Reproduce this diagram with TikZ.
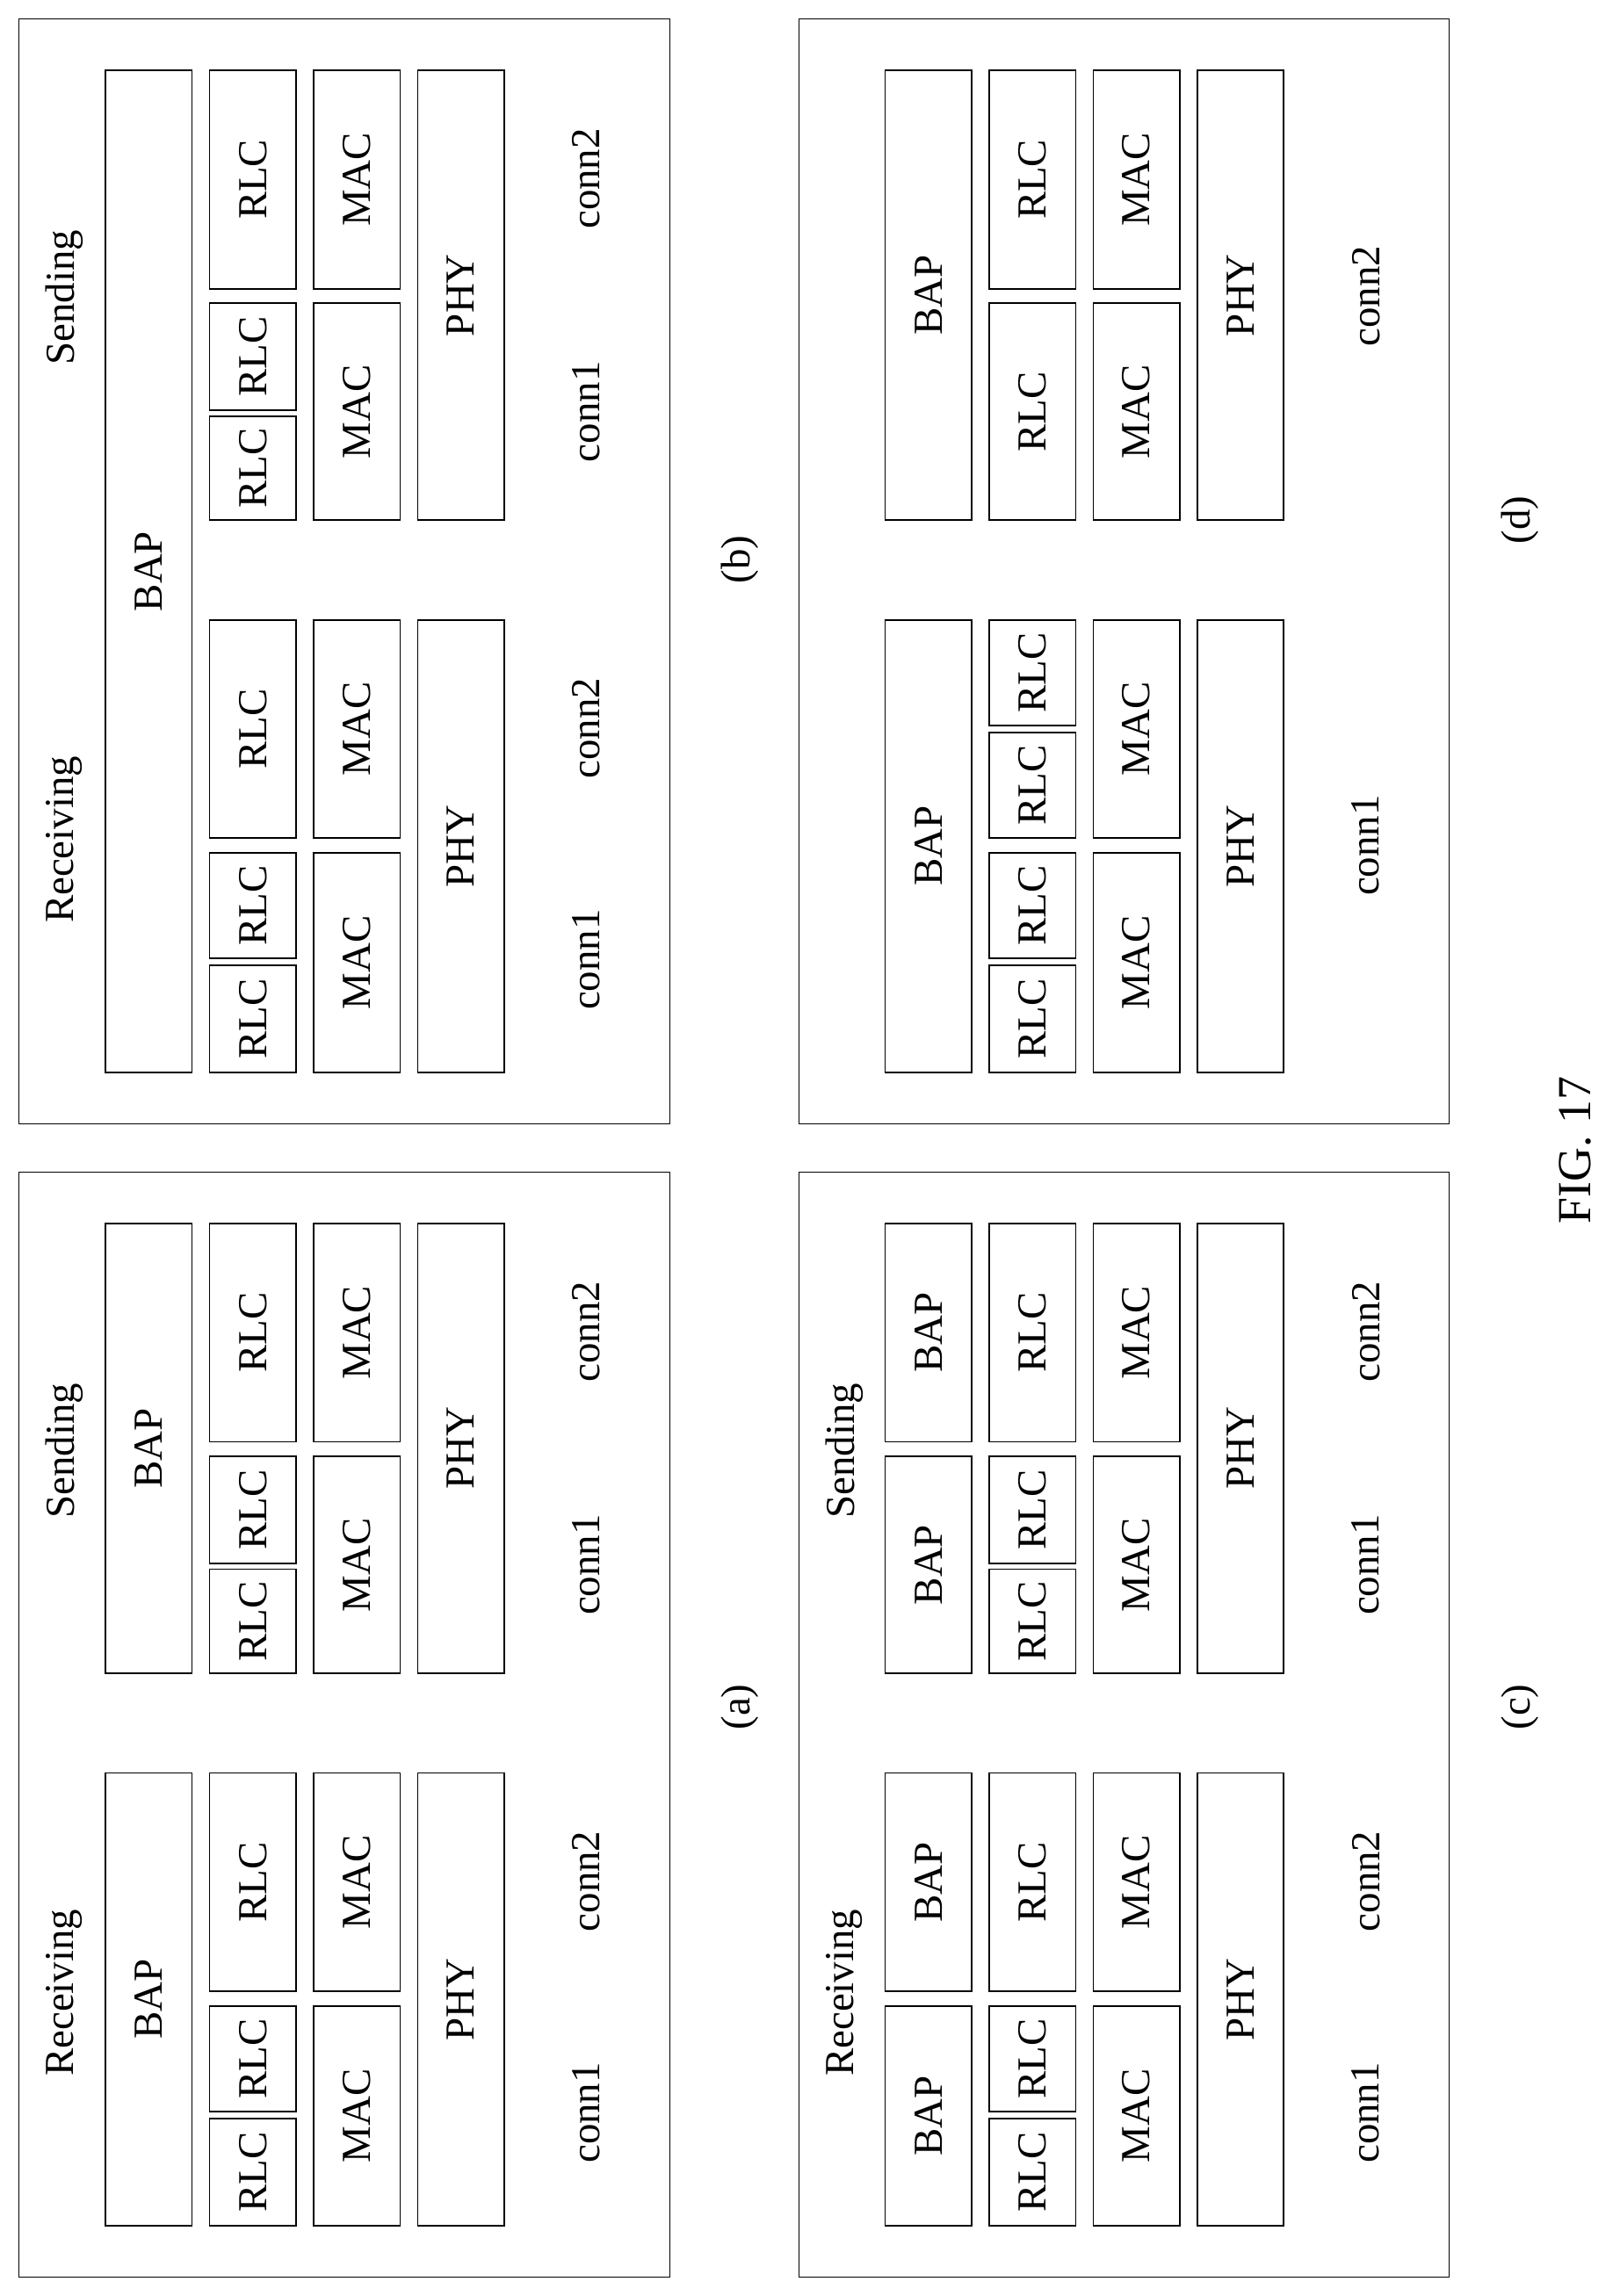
\documentclass[tikz,border=0pt]{standalone}
\usepackage{fontspec}
\setmainfont{Liberation Serif}
\tikzset{
        lyr/.style={draw, line width=1.5pt, rotate=90, minimum height=2.95cm, inner sep=0pt}, % one protocol layer
        frame/.style={draw, line width=1pt}, % panel border
        lbl/.style={rotate=90, inner sep=0pt}, % rotated text
    }
% #1 name, #2 column centre, #3 from, #4 to, #5 text (panel offset \ox,\oy)
\newcommand\lyr[5]{%
  \pgfmathsetmacro\lyrlen{(#4-#3)*0.05}%
  \node[lyr, minimum width=\lyrlen cm] (#1) at ({\ox+#2},{\oy+(#3+#4)/2}) {#5};}
\newcommand\lowerstack[1]{% RLC, MAC, PHY shared by (a), (b), (c); #1 prefix
  \lyr{#1rrlc}{172.5}{423}{572}{RLC}
  \lyr{#1rrlca}{172.5}{582}{654}{RLC}
  \lyr{#1rrlcb}{172.5}{659}{732}{RLC}
  \lyr{#1srlc}{172.5}{48}{197}{RLC}
  \lyr{#1srlca}{172.5}{207}{280}{RLC}
  \lyr{#1srlcb}{172.5}{284}{355}{RLC}
  \lyr{#1rmaca}{243.5}{423}{572}{MAC}
  \lyr{#1rmacb}{243.5}{582}{732}{MAC}
  \lyr{#1smaca}{243.5}{48}{197}{MAC}
  \lyr{#1smacb}{243.5}{207}{355}{MAC}
  \lyr{#1rphy}{314.5}{423}{732}{PHY}
  \lyr{#1sphy}{314.5}{48}{355}{PHY}}
\begin{document}
\begin{tikzpicture}[x=0.05cm, y=-0.05cm, font=\fontsize{40}{48}\selectfont]
  \useasboundingbox (0,0) rectangle (1105,1567);
  % panel (a)
  \def\ox{0}\def\oy{787}
  \node[frame, minimum width=22.2cm, minimum height=37.7cm] (pa) at (235,1177) {};
  \lyr{abapr}{101.5}{423}{732}{BAP}
  \lyr{abaps}{101.5}{48}{355}{BAP}
  \lowerstack{a}
  % panel (b)
  \def\ox{0}\def\oy{0}
  \node[frame, minimum width=22.2cm, minimum height=37.7cm] (pb) at (235,390) {};
  \lyr{bbap}{101.5}{48}{732}{BAP}
  \lowerstack{b}
  % panel (c)
  \def\ox{532}\def\oy{787}
  \node[frame, minimum width=22.2cm, minimum height=37.7cm] (pc) at (767,1177) {};
  \lyr{cbapra}{101.5}{423}{572}{BAP}
  \lyr{cbaprb}{101.5}{582}{732}{BAP}
  \lyr{cbapsa}{101.5}{48}{197}{BAP}
  \lyr{cbapsb}{101.5}{207}{355}{BAP}
  \lowerstack{c}
  % panel (d)
  \def\ox{532}\def\oy{0}
  \node[frame, minimum width=22.2cm, minimum height=37.7cm] (pd) at (767,390) {};
  \lyr{dbapr}{101.5}{423}{732}{BAP}
  \lyr{dbaps}{101.5}{48}{355}{BAP}
  \lyr{drrlca}{172.5}{423}{495}{RLC}
  \lyr{drrlcb}{172.5}{500}{572}{RLC}
  \lyr{drrlcc}{172.5}{582}{654}{RLC}
  \lyr{drrlcd}{172.5}{659}{732}{RLC}
  \lyr{dsrlca}{172.5}{48}{197}{RLC}
  \lyr{dsrlcb}{172.5}{207}{355}{RLC}
  \lyr{drmaca}{243.5}{423}{572}{MAC}
  \lyr{drmacb}{243.5}{582}{732}{MAC}
  \lyr{dsmaca}{243.5}{48}{197}{MAC}
  \lyr{dsmacb}{243.5}{207}{355}{MAC}
  \lyr{drphy}{314.5}{423}{732}{PHY}
  \lyr{dsphy}{314.5}{48}{355}{PHY}
  % texts
  \foreach \px/\py/\pn in {0/787/a, 0/0/b, 532/787/c}{
    \node[lbl] (\pn recv) at (\px+44,\py+573) {Receiving};
    \node[lbl] (\pn send) at (\px+44,\py+203) {Sending};
    \node[lbl] (\pn ca) at (\px+400,\py+655) {conn1};
    \node[lbl] (\pn cb) at (\px+400,\py+497) {conn2};
    \node[lbl] (\pn cc) at (\px+400,\py+281) {conn1};
    \node[lbl] (\pn cd) at (\px+400,\py+122) {conn2};
  }
  \node[lbl] (dca) at (932,577) {conn1};
  \node[lbl] (dcb) at (932,202) {conn2};
  \node[lbl] (capa) at (505,1165) {(a)};
  \node[lbl] (capb) at (505,382) {(b)};
  \node[lbl] (capc) at (1037,1165) {(c)};
  \node[lbl] (capd) at (1037,355) {(d)};
  \node[lbl, font=\fontsize{46}{54}\selectfont] (fig) at (1075,785) {FIG. 17};
\end{tikzpicture}
\end{document}
